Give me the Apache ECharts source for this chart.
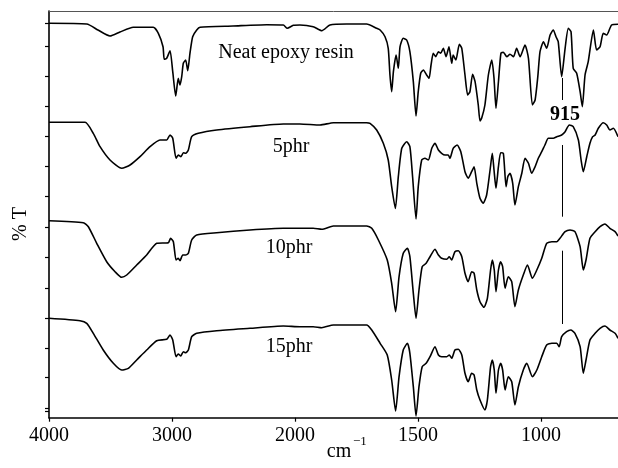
<!DOCTYPE html>
<html lang="en">
<head>
<meta charset="UTF-8">
<title>FTIR</title>
<script src="https://cdn.jsdelivr.net/npm/echarts@6/dist/echarts.min.js"></script>
<style>
  html, body { margin: 0; padding: 0; background: #fff; }
  #paint { width: 618px; height: 468px; }
</style>
</head>
<body>
<div id="paint"></div>
<script type="text/javascript">
// wavenumbers (cm-1) and offset %T
var neatWn = [4000,3693,3602,3504,3423,3315,3152,3111,3073,3063,3043,3016,2994,2970,2949,2935,2921,2908,2889,2872,2854,2832,2799,2772,2504,2230,2095,2063,2014,1980,1926,1891,1858,1790,1709,1668,1654,1634,1621,1614,1607,1600,1589,1580,1573,1560,1546,1533,1519,1508,1499,1489,1478,1465,1455,1447,1438,1428,1417,1408,1397,1386,1374,1363,1357,1346,1332,1322,1309,1298,1289,1278,1268,1255,1248,1241,1228,1214,1200,1191,1183,1173,1163,1153,1139,1126,1112,1099,1085,1065,1051,1035,1024,1013,1004,990,977,963,950,939,930,916,902,889,878,869,855,841,832,821,808,787,774,760,747,733,713,687];
var neatT = [394.4,393.7,387.7,381.7,385.7,390.4,390.4,384.4,371,358.4,359.4,367,346,321.7,339.4,332.7,341,354.4,357.7,347,364.4,381,387.7,390.4,391.7,393,392.7,389.4,392.4,392.7,391,387,392.7,393.7,393.7,389.4,387.7,381,369.4,342.7,326,346,362.7,349.4,371,379.4,377.7,366,336,301.7,326,344.4,347.7,342.7,339.4,352.7,364.4,361,366,364.4,369.4,361,371,354.4,362.7,357.7,373.4,369.4,342.7,322.7,326,343.4,336,312.7,296.7,299.7,312.7,342.7,357.7,339.4,309.4,336,364.4,365.4,361,363.4,361,369.4,361,372.7,359.4,312.7,317.7,341,366,376,369.4,382.7,387.7,381,376,341,369.4,389.4,386,349.4,344.4,326,311,342.7,356,387.7,367.7,371,384.4,382.7,392.7,393.4];

var phr5Wn = [4000,3707,3640,3585,3504,3409,3341,3260,3179,3098,3043,3016,2994,2967,2949,2927,2908,2889,2867,2840,2786,2637,2366,2095,1980,1898,1844,1709,1695,1668,1641,1621,1607,1592,1580,1566,1546,1533,1522,1508,1499,1485,1472,1458,1444,1431,1417,1404,1390,1377,1370,1357,1341,1326,1309,1296,1282,1272,1261,1248,1235,1221,1207,1198,1191,1183,1173,1164,1153,1142,1135,1126,1115,1106,1092,1078,1065,1051,1038,1024,1011,997,984,970,950,936,916,902,885,869,848,837,828,814,801,790,780,767,747,733,720,706,687];
var phr5T = [295.4,295.4,284.4,271,257.7,249.4,252.7,261,271,277.7,277.7,282.7,279.4,259.4,262.7,261,265,264.4,267.7,281,284.4,287.7,291,293.7,293.7,292.7,295,295,294.4,287.7,274.4,257.7,231,209.2,241,269.4,276,271,241,198.7,231,257.7,259.4,257.7,269.4,274.4,267.7,264.4,262.7,262.7,259.4,269.4,272.7,266,246,239.4,246,251,234.4,219.4,214.4,222.7,247.7,264.4,247.7,229.4,251,265,264.4,231,241,244.4,234.4,212.7,231,244.4,259.4,254.4,244.4,251,259.4,266,272.7,279.4,279.4,281,282.7,286,292.7,291,277.7,257.7,246,261,274.4,281,282.7,289.4,295,292.7,287.7,289.4,281];

var phr10Wn = [4000,3721,3680,3612,3531,3463,3409,3368,3287,3206,3124,3030,3011,2989,2967,2949,2935,2913,2889,2867,2840,2799,2637,2366,2095,1980,1926,1891,1844,1709,1688,1661,1625,1607,1591,1577,1560,1543,1533,1519,1508,1496,1483,1467,1451,1431,1417,1404,1383,1373,1363,1350,1336,1322,1309,1296,1282,1272,1261,1248,1232,1218,1205,1198,1190,1183,1173,1164,1156,1146,1133,1119,1106,1092,1072,1055,1035,1017,997,977,956,936,923,902,882,862,841,828,817,801,780,760,740,720,699,687];
var phr10T = [197,195,191,174.4,156,146,140.4,142.7,152.7,162.7,174.4,175,179.4,176,157.7,159.4,157,162.7,162.7,164.4,177.7,182.7,185,187.7,189.4,189.4,189.4,188.4,191.7,191.7,189.4,177.7,157.7,134.4,106,141,164.4,169.4,161,124.4,99.4,127.7,151,154.4,161,168.4,162.7,159.4,158.4,161,157.7,166,167,161,144.4,136,146,144.4,127.7,116,110.4,119.4,147.7,157.7,147.7,126,147.7,156,151,129.4,141,136,111,127.7,142.7,152.7,139.4,147.7,159.4,174.4,176,176,179.4,186,187.7,186,171,147.7,157.7,179.4,186,191,193.7,189.4,186,181.7];

var phr15Wn = [4000,3748,3693,3640,3559,3477,3409,3355,3287,3206,3124,3043,3016,2994,2967,2949,2929,2908,2889,2867,2840,2799,2637,2366,2095,1980,1926,1891,1844,1709,1688,1654,1625,1607,1591,1577,1560,1543,1533,1519,1508,1496,1483,1467,1451,1431,1417,1404,1383,1373,1363,1350,1336,1322,1309,1296,1282,1272,1261,1248,1228,1218,1205,1198,1190,1183,1173,1164,1156,1146,1133,1119,1106,1092,1072,1058,1035,1017,997,977,956,936,926,916,896,879,862,841,828,817,801,780,760,740,720,699,687];
var phr15T = [99.4,97,94.4,84.4,67.7,54.4,47.7,49.4,57.7,67.7,77,78.4,82.7,77.7,61,63.7,61.7,66,65,67.7,81,84.4,87,89.4,91.7,91,91,90,92.7,92.7,87.7,74.4,62.7,37.7,6.7,41,67.7,74.4,64.4,31,1.7,31,51,54.4,61,71,62.7,61,61,62.7,59.4,67.7,68.4,62.7,44.4,36,44.4,42.7,27.7,17.7,7.7,17.7,51,57.7,47.7,24.4,47.7,54.4,47.7,27.7,41,36,12.7,31,47.7,54.4,41,47.7,61,72.7,74.4,74.4,71,81,86,87.7,84.4,71,44.4,57.7,77.7,84.4,89.4,91.7,87.7,84.4,79.4];

var tickWn = [4000, 3000, 2000, 1500, 1000];
var yTicks = [394.4,371,341,311,281,251,221,190,160.4,129.4,99.4,69.4,40,9.4,6];
// 915 cm-1 marker: pieces of the vertical line (%T from, to)
var markWn = 915;
var markPieces = [[339.7, 317.7], [272.7, 201], [167, 93.7]];

// the x scale doubles below 2000 cm-1
function toAxis(wn) { return wn >= 2000 ? 4000 - wn : 2000 + 2 * (2000 - wn); }
function fromAxis(u) { return u <= 2000 ? 4000 - u : 2000 - (u - 2000) / 2; }

function pairs(wn, t) {
    var out = [];
    for (var i = 0; i < Math.min(wn.length, t.length); i++) out.push([toAxis(wn[i]), t[i]]);
    return out;
}

var font = 'Liberation Serif, Times New Roman, serif';
var myChart = echarts.init(document.getElementById('paint'));

function curve(name, data, extra) {
    var s = {
        name: name, type: 'line', data: data, symbol: 'none', smooth: 0.2,
        lineStyle: { color: '#000', width: 1.6 }, animation: false, silent: true
    };
    for (var k in extra) s[k] = extra[k];
    return s;
}

var markData = markPieces.map(function (p) {
    return [{ coord: [toAxis(markWn), p[0]] }, { coord: [toAxis(markWn), p[1]] }];
});

var xTicks = tickWn.map(toAxis);

function label(text, x, y, size, weight) {
    return {
        type: 'text', x: x, y: y,
        style: {
            text: text, font: (weight || '') + ' ' + size + 'px ' + font, fill: '#000',
            textAlign: 'center', textVerticalAlign: 'middle', align: 'center', verticalAlign: 'middle'
        }
    };
}

var option = {
    animation: false,
    grid: { left: 49, right: 0, top: 11, bottom: 50.3 },
    xAxis: [{
        type: 'value', min: 0, max: 4626,
        axisLine: { lineStyle: { color: '#000', width: 1.6 } },
        axisTick: { length: 4, customValues: xTicks, lineStyle: { color: '#000', width: 1.2 } },
        axisLabel: {
            customValues: xTicks, color: '#000', fontFamily: font, fontSize: 20, margin: 8,
            formatter: function (v) { return String(Math.round(fromAxis(v))); }
        },
        splitLine: { show: false }
    }, {
        type: 'value', min: 0, max: 4626, position: 'top',
        axisLine: { show: true, lineStyle: { color: '#555', width: 1 } },
        axisTick: { show: false }, axisLabel: { show: false }, splitLine: { show: false }
    }],
    yAxis: {
        type: 'value', min: 0, max: 406.7,
        axisLine: { show: true, lineStyle: { color: '#000', width: 1.6 } },
        axisTick: { show: true, length: 4, customValues: yTicks, lineStyle: { color: '#000', width: 1.2 } },
        axisLabel: { show: false },
        splitLine: { show: false }
    },
    series: [
        curve('Neat epoxy resin', pairs(neatWn, neatT), {
            markLine: {
                silent: true, symbol: 'none', animation: false,
                label: { show: false },
                lineStyle: { color: '#000', width: 1, type: 'solid' },
                data: markData
            }
        }),
        curve('5phr', pairs(phr5Wn, phr5T)),
        curve('10phr', pairs(phr10Wn, phr10T)),
        curve('15phr', pairs(phr15Wn, phr15T))
    ],
    graphic: [
        label('Neat epoxy resin', 286, 53, 20),
        label('5phr', 291, 147, 20),
        label('10phr', 289, 248, 20),
        label('15phr', 289, 347, 20),
        label('915', 565, 115, 20, 'bold'),
        label('cm', 339, 452, 20),
        { type: 'text', x: 353, y: 442, style: { text: '\u22121', font: '13px ' + font, fill: '#000', textAlign: 'left', textVerticalAlign: 'middle', align: 'left', verticalAlign: 'middle' } },
        { type: 'text', x: 21, y: 224, rotation: Math.PI / 2, style: { text: '% T', font: '20px ' + font, fill: '#000', textAlign: 'center', textVerticalAlign: 'middle', align: 'center', verticalAlign: 'middle' } }
    ]
};
myChart.setOption(option);
</script>
</body>
</html>
